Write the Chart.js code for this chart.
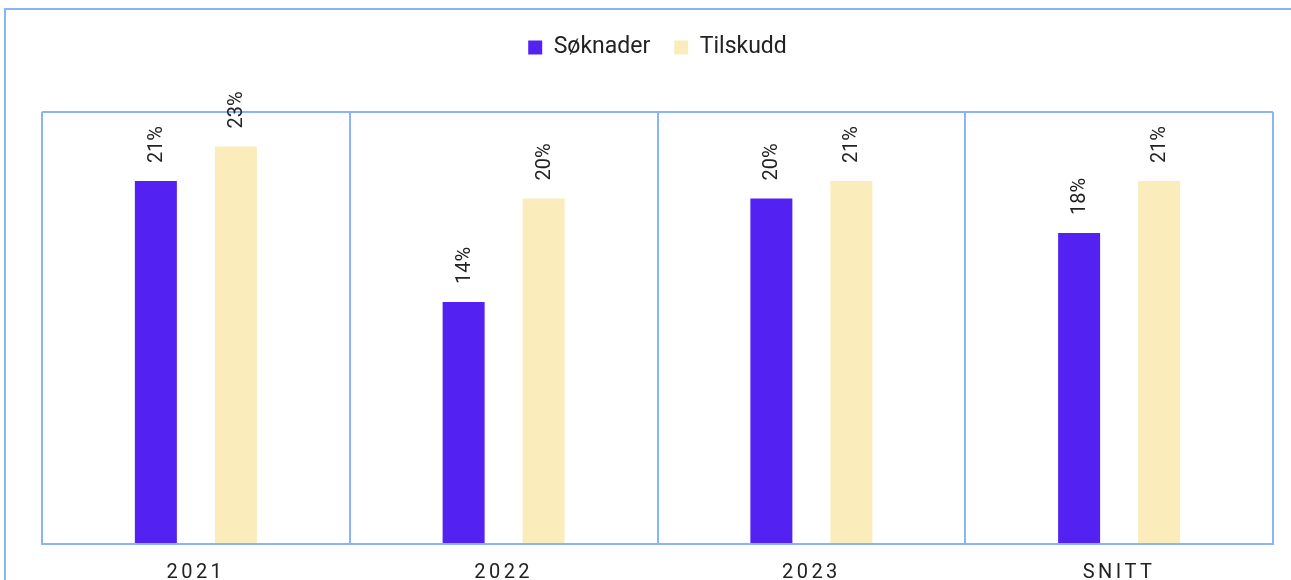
<!DOCTYPE html>
<html lang="no">
<head>
<meta charset="UTF-8">
<title>Søknader og tilskudd</title>
<script src="https://cdn.jsdelivr.net/npm/chart.js"></script>
<style>
  html, body { margin: 0; padding: 0; background: #fff; overflow: hidden; }
  .ramme { position: absolute; left: 4px; top: 8px; width: 1400px; height: 700px; border: 2px solid #8ab4f8; }
  .graf { position: absolute; left: 0; top: 0; width: 1291px; height: 602px; }
</style>
</head>
<body>
  <div class="ramme"></div>
  <div class="graf"><canvas id="grafTilskudd"></canvas></div>

<script>
  // data
  const kategorier = ['2021', '2022', '2023', 'SNITT'];
  const soknader = [21, 14, 20, 18];
  const tilskudd = [23, 20, 21, 21];
  const yMaks = 25;

  const blaa = '#8ab4f8';
  const tekstfarge = '#222';

  // tall over stolpene, rotert
  const verdiEtiketter = {
    id: 'verdiEtiketter',
    afterDatasetsDraw(chart) {
      const ctx = chart.ctx;
      ctx.save();
      ctx.font = '20px Roboto';
      ctx.fillStyle = tekstfarge;
      ctx.textAlign = 'left';
      ctx.textBaseline = 'middle';
      chart.data.datasets.forEach((ds, i) => {
        chart.getDatasetMeta(i).data.forEach((bar, j) => {
          ctx.save();
          ctx.translate(bar.x, bar.y - 18);
          ctx.rotate(-Math.PI / 2);
          ctx.fillText(ds.data[j] + '%', 0, 1);
          ctx.restore();
        });
      });
      ctx.restore();
    }
  };

  // luft under legenden + sperret skrift på x-aksen
  const justering = {
    id: 'justering',
    beforeInit(chart) {
      const fit = chart.legend.fit;
      chart.legend.fit = function () {
        fit.bind(chart.legend)();
        this.height += 43;
      };
    },
    beforeDraw(chart) {
      const x = chart.scales.x;
      if (x && !x._sperret) {
        const orig = x.drawLabels;
        x.drawLabels = function (area) {
          const ctx = this.ctx;
          ctx.save();
          ctx.letterSpacing = '3.5px';
          orig.call(this, area);
          ctx.restore();
        };
        x._sperret = true;
      }
    }
  };

  new Chart(document.getElementById('grafTilskudd'), {
    type: 'bar',
    data: {
      labels: kategorier,
      datasets: [
        { label: 'Søknader', data: soknader, backgroundColor: '#5421f3', categoryPercentage: 0.52, barPercentage: 0.525 },
        { label: 'Tilskudd', data: tilskudd, backgroundColor: '#faedbb', categoryPercentage: 0.52, barPercentage: 0.525 }
      ]
    },
    options: {
      responsive: true,
      maintainAspectRatio: false,
      animation: false,
      layout: { padding: { top: 12, left: 42, right: 18, bottom: 0 } },
      plugins: {
        legend: {
          position: 'top',
          labels: {
            font: { family: 'Roboto', size: 23 },
            color: tekstfarge,
            boxWidth: 14,
            boxHeight: 14,
            padding: 24
          }
        },
        tooltip: { enabled: false }
      },
      scales: {
        x: {
          grid: { color: blaa, lineWidth: 2, drawTicks: false, offset: true },
          border: { display: true, color: blaa, width: 2 },
          ticks: { font: { family: 'Roboto', size: 20 }, color: tekstfarge, padding: 17 }
        },
        y: {
          min: 0,
          max: yMaks,
          ticks: { display: false, stepSize: yMaks },
          grid: { color: blaa, lineWidth: 2, drawTicks: false },
          border: { display: false }
        }
      }
    },
    plugins: [verdiEtiketter, justering]
  });
</script>
</body>
</html>
